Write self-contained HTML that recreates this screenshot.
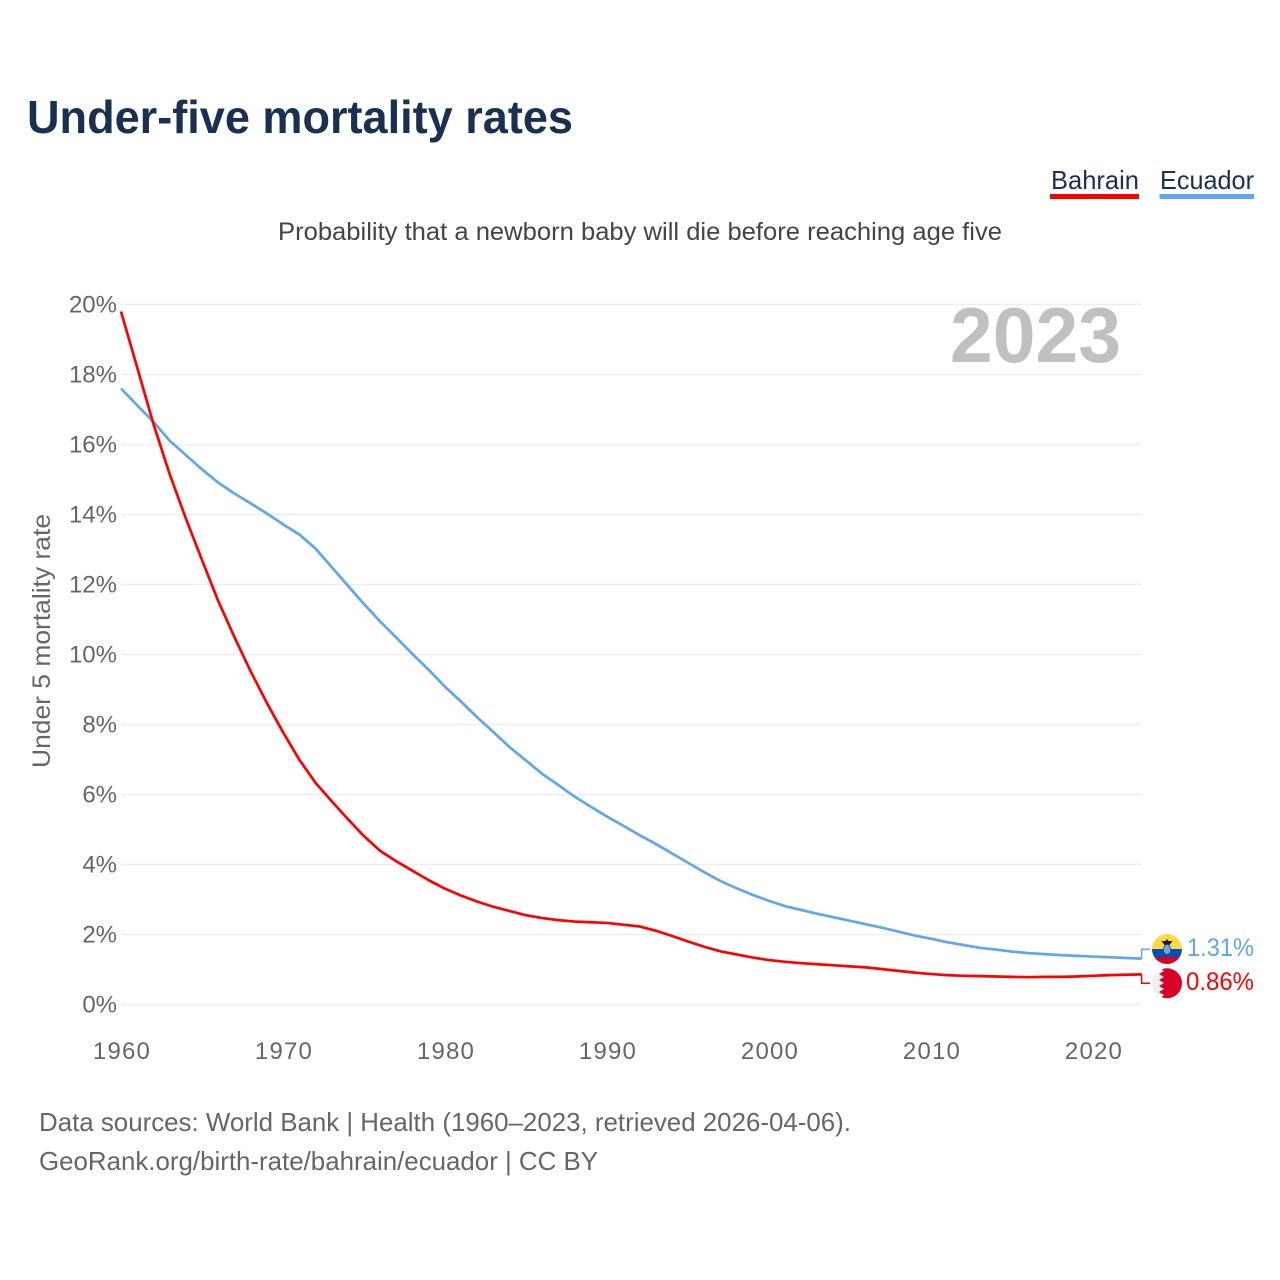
<!DOCTYPE html>
<html lang="en">
<head>
<meta charset="utf-8">
<title>Under-five mortality rates</title>
<style>
html,body{margin:0;padding:0;background:#fff;width:1280px;height:1280px;overflow:hidden}
svg{display:block}
text{font-family:"Liberation Sans",Arial,sans-serif}
</style>
</head>
<body>
<svg id="chart" xmlns="http://www.w3.org/2000/svg" width="1280" height="1280" viewBox="0 0 1280 1280">
  <rect x="0" y="0" width="1280" height="1280" fill="#ffffff"/>
  <text x="27" y="133" font-size="46" font-weight="700" fill="#1a3050" textLength="546" lengthAdjust="spacingAndGlyphs">Under-five mortality rates</text>
  <g>
    <text x="1051" y="189" font-size="26" fill="#1a3050" textLength="88" lengthAdjust="spacingAndGlyphs">Bahrain</text>
    <rect x="1050" y="194" width="89" height="5" fill="#ff0000"/>
  </g>
  <g>
    <text x="1160" y="189" font-size="26" fill="#1a3050" textLength="94" lengthAdjust="spacingAndGlyphs">Ecuador</text>
    <rect x="1159.5" y="194" width="94.5" height="5" fill="#60a5f0"/>
  </g>
  <text x="278" y="240" font-size="25" fill="#444444" textLength="724" lengthAdjust="spacingAndGlyphs">Probability that a newborn baby will die before reaching age five</text>
  <g id="grid"></g>
  <text x="950" y="362" font-size="78" font-weight="700" fill="#c0c0c0" textLength="171" lengthAdjust="spacingAndGlyphs">2023</text>
  <g id="yticks"></g>
  <g id="xticks"></g>
  <text transform="translate(50,641) rotate(-90)" text-anchor="middle" font-size="25" fill="#666666" textLength="254" lengthAdjust="spacingAndGlyphs">Under 5 mortality rate</text>
  <g id="series"></g>
  <g>
    <clipPath id="clip-ec"><circle cx="1167" cy="949" r="15"/></clipPath>
    <g clip-path="url(#clip-ec)">
      <rect x="1152" y="934" width="30" height="15" fill="#ffda44"/>
      <rect x="1152" y="949" width="30" height="8" fill="#0052b4"/>
      <rect x="1152" y="957" width="30" height="8" fill="#d80027"/>
    </g>
    <path d="M1161.5 941 L1165.5 941 L1167 939 L1168.5 941 L1172.5 941 L1169.5 945 L1164.5 945 Z" fill="#1a1a1a"/>
    <ellipse cx="1167" cy="949.5" rx="3.6" ry="5" fill="#6da8e8" stroke="#1a4f9a" stroke-width="0.8"/>
  </g>
  <g>
    <circle cx="1167" cy="983.3" r="15" fill="#f0f0f0"/>
    <clipPath id="clip-bh"><circle cx="1167" cy="983.3" r="15"/></clipPath>
    <path clip-path="url(#clip-bh)" d="M1160 968 L1183 968 L1183 999 L1160 999 L1164 995 L1159 992 L1164 989 L1159 986 L1164 983 L1159 980 L1164 977 L1159 974 L1164 971 Z" fill="#d80027"/>
  </g>
  <text x="1187" y="956" font-size="25" fill="#60a5f0" textLength="67" lengthAdjust="spacingAndGlyphs">1.31%</text>
  <text x="1186" y="990" font-size="25" fill="#ff0000" textLength="68" lengthAdjust="spacingAndGlyphs">0.86%</text>
  <text x="39" y="1131" font-size="26" fill="#666666" textLength="812" lengthAdjust="spacingAndGlyphs">Data sources: World Bank | Health (1960–2023, retrieved 2026-04-06).</text>
  <text x="39" y="1170" font-size="26" fill="#666666" textLength="559" lengthAdjust="spacingAndGlyphs">GeoRank.org/birth-rate/bahrain/ecuador | CC BY</text>
</svg>
<script>
var years = [1960,1961,1962,1963,1964,1965,1966,1967,1968,1969,1970,1971,1972,1973,1974,1975,1976,1977,1978,1979,1980,1981,1982,1983,1984,1985,1986,1987,1988,1989,1990,1991,1992,1993,1994,1995,1996,1997,1998,1999,2000,2001,2002,2003,2004,2005,2006,2007,2008,2009,2010,2011,2012,2013,2014,2015,2016,2017,2018,2019,2020,2021,2022,2023];
var bahrainValues = [19.8,18.2,16.59,15.16,13.89,12.7,11.53,10.5,9.52,8.62,7.78,7.0,6.34,5.81,5.3,4.81,4.39,4.09,3.82,3.55,3.31,3.11,2.94,2.79,2.67,2.55,2.47,2.41,2.37,2.35,2.33,2.28,2.23,2.11,1.96,1.8,1.65,1.52,1.43,1.34,1.27,1.22,1.18,1.15,1.12,1.09,1.06,1.01,0.96,0.91,0.87,0.84,0.82,0.81,0.80,0.79,0.78,0.79,0.79,0.80,0.82,0.84,0.85,0.86];
var ecuadorValues = [17.6,17.12,16.65,16.11,15.7,15.29,14.91,14.6,14.32,14.03,13.72,13.43,13.03,12.5,11.97,11.44,10.94,10.48,10.01,9.56,9.08,8.65,8.2,7.78,7.35,6.97,6.59,6.27,5.94,5.65,5.37,5.11,4.84,4.59,4.32,4.05,3.78,3.53,3.32,3.13,2.96,2.81,2.7,2.59,2.49,2.39,2.29,2.19,2.08,1.97,1.88,1.78,1.70,1.62,1.57,1.51,1.47,1.44,1.41,1.39,1.37,1.35,1.33,1.31];
var yTickValues = [0,2,4,6,8,10,12,14,16,18,20];
var xTickValues = [1960,1970,1980,1990,2000,2010,2020];

var NS = 'http://www.w3.org/2000/svg';
function xScale(year){ return 121 + (year - 1960) * (1141.6 - 121) / 63; }
function yScale(v){ return 1004.5 - v * 35; }

var grid = document.getElementById('grid');
var yticks = document.getElementById('yticks');
var xticks = document.getElementById('xticks');
var seriesGroup = document.getElementById('series');

yTickValues.forEach(function(v){
  var line = document.createElementNS(NS, 'line');
  
  
  line.setAttribute('x1', xScale(1960));
  line.setAttribute('x2', xScale(2023));
  line.setAttribute('y1', yScale(v));
  line.setAttribute('y2', yScale(v));
  line.setAttribute('stroke', '#eeeeee');
  line.setAttribute('stroke-width', '1.5');
  grid.appendChild(line);
  var t = document.createElementNS(NS, 'text');
  
  
  t.setAttribute('x', 117);
  t.setAttribute('y', yScale(v) + 8);
  t.setAttribute('text-anchor', 'end');
  t.setAttribute('font-size', '24');
  t.setAttribute('fill', '#666666');
  t.textContent = v + '%';
  yticks.appendChild(t);
});

xTickValues.forEach(function(y){
  var t = document.createElementNS(NS, 'text');
  
  
  t.setAttribute('x', xScale(y) + 1);
  t.setAttribute('y', 1059);
  t.setAttribute('text-anchor', 'middle');
  t.setAttribute('font-size', '24');
  t.setAttribute('letter-spacing', '1.2');
  t.setAttribute('fill', '#666666');
  t.textContent = String(y);
  xticks.appendChild(t);
});

function pointsFor(values){
  return values.map(function(v, i){ return xScale(years[i]).toFixed(2) + ',' + yScale(v).toFixed(2); }).join(' ');
}

var ecuadorLine = document.createElementNS(NS, 'polyline');


ecuadorLine.setAttribute('points', pointsFor(ecuadorValues));
ecuadorLine.setAttribute('fill', 'none');
ecuadorLine.setAttribute('stroke', '#60a5f0');
ecuadorLine.setAttribute('stroke-width', '2.7');
ecuadorLine.setAttribute('stroke-linejoin', 'round');
seriesGroup.appendChild(ecuadorLine);

var bahrainLine = document.createElementNS(NS, 'polyline');


bahrainLine.setAttribute('points', pointsFor(bahrainValues));
bahrainLine.setAttribute('fill', 'none');
bahrainLine.setAttribute('stroke', '#ff0000');
bahrainLine.setAttribute('stroke-width', '2.7');
bahrainLine.setAttribute('stroke-linejoin', 'round');
seriesGroup.appendChild(bahrainLine);

var lastIndex = years.length - 1;
var ecuadorConnector = document.createElementNS(NS, 'polyline');


ecuadorConnector.setAttribute('points', xScale(2023) + ',' + yScale(ecuadorValues[lastIndex]) + ' ' + xScale(2023) + ',949.3 1150,949.3');
ecuadorConnector.setAttribute('fill', 'none');
ecuadorConnector.setAttribute('stroke', '#60a5f0');
ecuadorConnector.setAttribute('stroke-width', '1.5');
seriesGroup.appendChild(ecuadorConnector);

var bahrainConnector = document.createElementNS(NS, 'polyline');


bahrainConnector.setAttribute('points', xScale(2023) + ',' + yScale(bahrainValues[lastIndex]) + ' ' + xScale(2023) + ',983.3 1150,983.3');
bahrainConnector.setAttribute('fill', 'none');
bahrainConnector.setAttribute('stroke', '#ff0000');
bahrainConnector.setAttribute('stroke-width', '1.5');
seriesGroup.appendChild(bahrainConnector);
</script>
</body>
</html>
